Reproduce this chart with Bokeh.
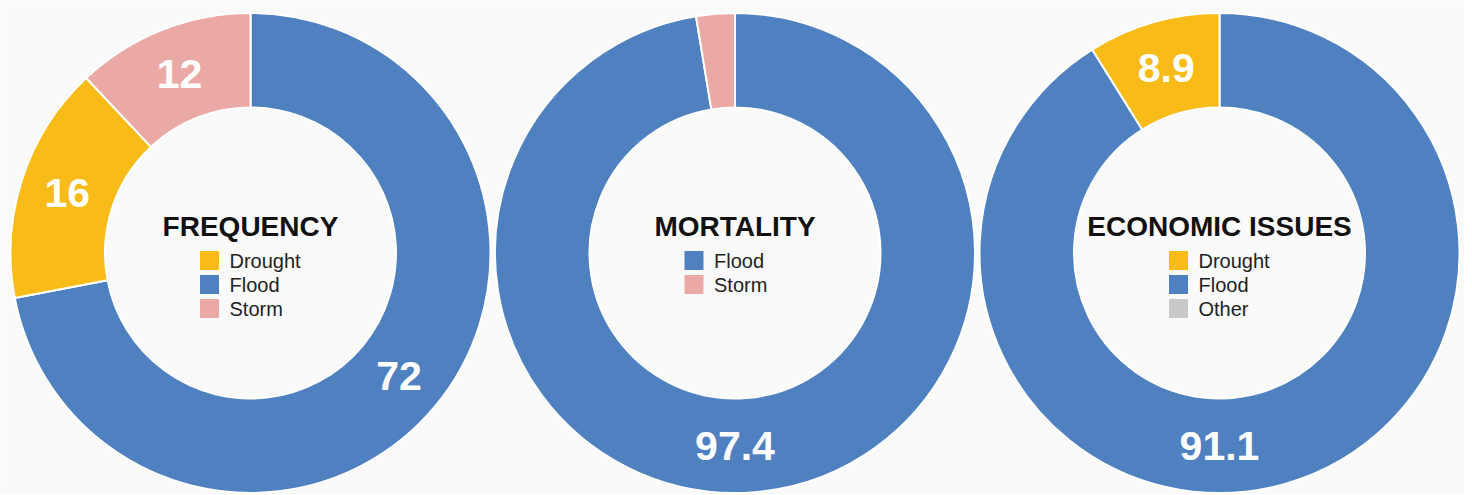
import math
from bokeh.plotting import figure
from bokeh.models import Range1d, ColumnDataSource
from bokeh.core.properties import value
from bokeh.embed import file_html
from bokeh.resources import INLINE

# ---- data ----
titles = ["FREQUENCY", "MORTALITY", "ECONOMIC ISSUES"]
freq_categories = ["Drought", "Flood", "Storm"]
freq_values = [16, 72, 12]
mort_categories = ["Flood", "Storm"]
mort_values = [97.4, 2.6]
econ_categories = ["Drought", "Flood", "Other"]
econ_values = [8.9, 91.1, 0]

colors = {"Drought": "#F8BB18", "Flood": "#4F80C0", "Storm": "#EBA9A6", "Other": "#C9C9C9"}
slice_order = ["Flood", "Drought", "Storm", "Other"]

charts = [(titles[0], freq_categories, freq_values),
          (titles[1], mort_categories, mort_values),
          (titles[2], econ_categories, econ_values)]

W, H = 1464, 494
BG = "#fafafa"
p = figure(width=W, height=H, output_backend="svg", toolbar_location=None,
           x_range=Range1d(0, W), y_range=Range1d(0, H),
           background_fill_color=BG, border_fill_color=BG,
           min_border=0, outline_line_color=None)
p.axis.visible = False
p.grid.visible = False

R_OUT, R_IN = 240, 145.5
cy = H - 252.5
LABEL_FONT = value("Liberation Sans")

for i, (title, cats, vals) in enumerate(charts):
    cx = 250 + i * 484.5
    total = float(sum(vals))
    ordered = [(c, v) for c in slice_order for (cc, v) in zip(cats, vals) if cc == c]
    starts, ends, cols, lx, ly, lt = [], [], [], [], [], []
    cum = 0.0
    for c, v in ordered:
        f0 = cum / total
        f1 = (cum + v) / total
        cum += v
        if v <= 0:
            continue
        starts.append(math.pi / 2 - 2 * math.pi * f0)
        ends.append(math.pi / 2 - 2 * math.pi * f1)
        cols.append(colors[c])
        if v / total >= 0.05:
            fm = 0.5 if v / total >= 0.9 else (f0 + f1) / 2
            a = math.pi / 2 - 2 * math.pi * fm
            rm = (R_OUT + R_IN) / 2
            lx.append(cx + rm * math.cos(a))
            ly.append(cy + rm * math.sin(a))
            lt.append(f"{v:g}")
    src = ColumnDataSource(dict(x=[cx] * len(starts), y=[cy] * len(starts),
                                s=starts, e=ends, c=cols))
    p.annular_wedge(x="x", y="y", inner_radius=R_IN, outer_radius=R_OUT,
                    start_angle="s", end_angle="e", direction="clock",
                    fill_color="c", line_color="white", line_width=2, source=src)
    p.text(x=lx, y=ly, text=lt, text_color="white", text_font=LABEL_FONT,
           text_font_size="41px", text_font_style="bold",
           text_align="center", text_baseline="middle")
    # title
    p.text(x=[cx], y=[cy + 27], text=[title], text_color="#111111", text_font=LABEL_FONT,
           text_font_size="28px", text_font_style="bold",
           text_align="center", text_baseline="middle")
    # legend
    ys = [cy - 7.5 - 24 * k for k in range(len(cats))]
    p.rect(x=[cx - 41] * len(cats), y=ys, width=19, height=19,
           fill_color=[colors[c] for c in cats], line_color=None)
    p.text(x=[cx - 21] * len(cats), y=ys, text=cats, text_color="#222222",
           text_font=LABEL_FONT, text_font_size="20px",
           text_align="left", text_baseline="middle")

open("out.html", "w").write(file_html(p, INLINE))
